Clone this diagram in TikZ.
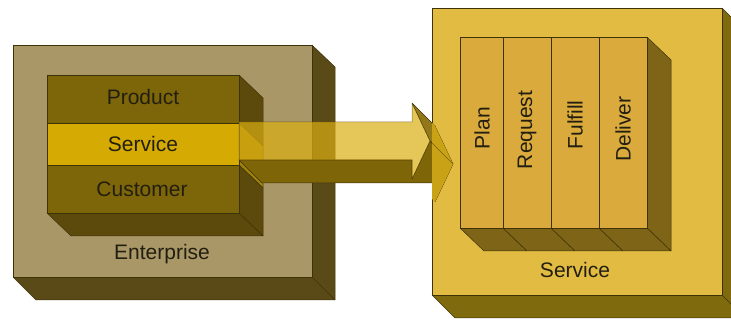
\documentclass[tikz,border=0pt]{standalone}
\usepackage{fontspec}
\setmainfont{Liberation Sans}
\definecolor{entfront}{HTML}{A99767}
\definecolor{entside}{HTML}{5A4A18}
\definecolor{innerfront}{HTML}{7D6509}
\definecolor{innerside}{HTML}{5C4A0C}
\definecolor{servband}{HTML}{D5AA02}
\definecolor{servbandside}{HTML}{A08208}
\definecolor{svcfront}{HTML}{E2BC42}
\definecolor{svcside}{HTML}{7F6A0E}
\definecolor{colfront}{HTML}{DAAA3C}
\definecolor{colside}{HTML}{7D6416}
\definecolor{arrowfront}{HTML}{DAAE12}
\definecolor{arrowdark}{HTML}{7E6508}
\definecolor{arrowmid}{HTML}{927818}
\definecolor{arrowgold}{HTML}{C9A216}
\definecolor{edgec}{HTML}{3E3308}
\definecolor{txt}{HTML}{231F10}
\begin{document}
\begin{tikzpicture}[x=1pt,y=-1pt,line join=round,
  edge/.style={draw=edgec,line width=0.5pt},
  lbl/.style={font=\fontsize{21}{25}\selectfont,text=txt,inner sep=0pt}]
\useasboundingbox (0,0) rectangle (731,320);
\clip (0,0) rectangle (731,320);
% ---------------- Enterprise box
\filldraw[fill=entside,edge] (312,45) -- (335,67) -- (335,300) -- (36,300) -- (13,277) -- (312,277) -- cycle;
\draw[edge] (312,277) -- (335,300);
\filldraw[fill=entfront,edge] (13,45) rectangle (312,277);
% ---------------- inner box
\filldraw[fill=innerside,edge] (239,75) -- (263,98) -- (263,146) -- (239,123) -- cycle;
\filldraw[fill=servbandside,edge] (239,123) -- (263,146) -- (263,188) -- (239,165) -- cycle;
\filldraw[fill=innerside,edge] (239,165) -- (263,188) -- (263,236) -- (239,213) -- cycle;
\filldraw[fill=innerside,edge] (47,213) -- (71,236) -- (263,236) -- (239,213) -- cycle;
\filldraw[fill=innerfront,edge] (47,75) rectangle (239,123);
\filldraw[fill=servband,edge] (47,123) rectangle (239,165);
\filldraw[fill=innerfront,edge] (47,165) rectangle (239,213);
% ---------------- Service box
\filldraw[fill=svcside,edge] (722,8) -- (745,31) -- (745,318) -- (455,318) -- (432,295) -- (722,295) -- cycle;
\draw[edge] (722,295) -- (745,318);
\filldraw[fill=svcfront,edge] (432,8) rectangle (722,295);
% ---------------- columns
\filldraw[fill=colside,edge] (647,37) -- (671,60) -- (671,251) -- (647,228) -- cycle;
\foreach \a/\b in {460/503,503/551,551/599,599/647}{
  \filldraw[fill=colside,edge] (\a,228) -- (\a+24,251) -- (\b+24,251) -- (\b,228) -- cycle;
  \filldraw[fill=colfront,edge] (\a,37) rectangle (\b,228);
}
% ---------------- arrow
\filldraw[fill=arrowdark,edge] (239,160) -- (412,160) -- (412,179) -- (430,141) -- (453,164) -- (435,202) -- (435,183) -- (262,183) -- cycle;
\filldraw[fill=arrowmid,edge] (412,103) -- (430,141) -- (453,164) -- (435,126) -- cycle;
\begin{scope}
  \clip (432,0) rectangle (731,320);
  \fill[arrowgold] (412,103) -- (430,141) -- (453,164) -- (435,126) -- cycle;
  \fill[arrowgold] (412,179) -- (430,141) -- (453,164) -- (435,202) -- cycle;
  \draw[draw=edgec,line width=0.4pt,opacity=0.5] (430,141) -- (453,164);
\end{scope}
\filldraw[fill=arrowfront,fill opacity=0.7,edge,draw opacity=0.6] (239,122) -- (412,122) -- (412,103) -- (430,141) -- (412,179) -- (412,160) -- (239,160) -- cycle;
% ---------------- labels
\node[lbl,anchor=base] (product) at (143,105) {Product};
\node[lbl,anchor=base] (servband) at (143,152) {Service};
\node[lbl,anchor=base] (customer) at (142,197) {Customer};
\node[lbl,anchor=base] (enterprise) at (162,260) {Enterprise};
\node[lbl,anchor=base] (service) at (575,278) {Service};
\node[lbl,rotate=90] (plan) at (482,128) {Plan};
\node[lbl,rotate=90] (request) at (527,130) {Request};
\node[lbl,rotate=90] (fulfill) at (575,125) {Fulfill};
\node[lbl,rotate=90] (deliver) at (623,129) {Deliver};
\end{tikzpicture}
\end{document}
